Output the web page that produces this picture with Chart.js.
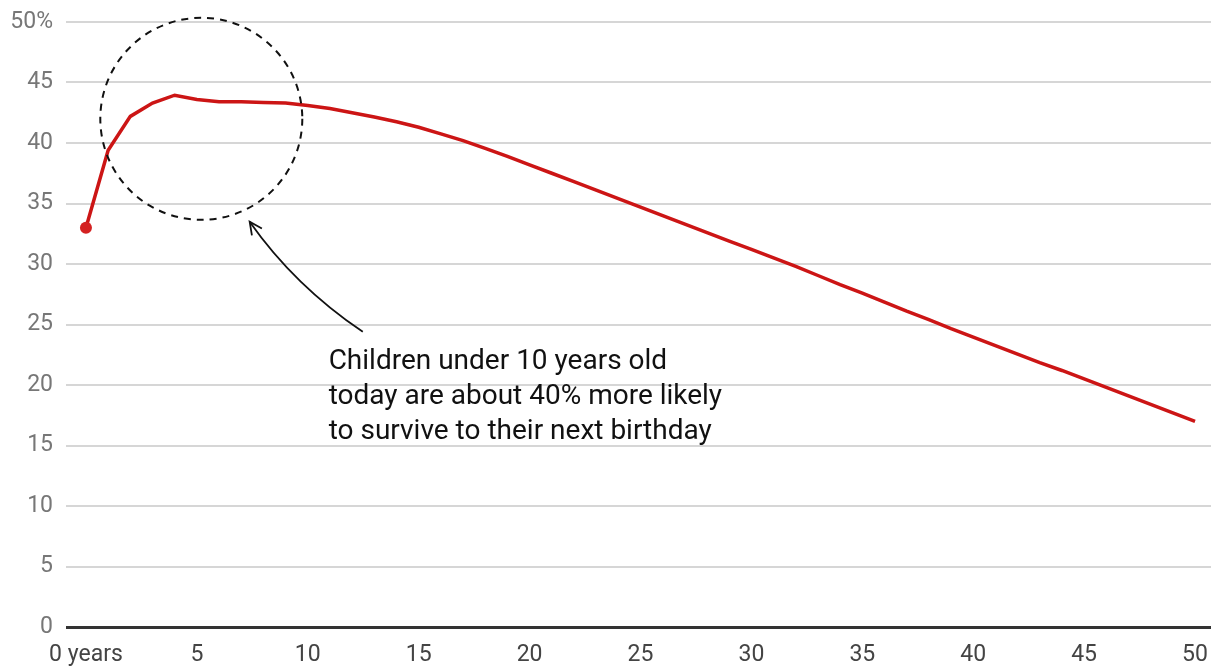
<!DOCTYPE html>
<html>
<head>
<meta charset="utf-8">
<script src="https://cdn.jsdelivr.net/npm/chart.js@4/dist/chart.umd.min.js"></script>
<style>
  html, body { margin: 0; padding: 0; background: #fff; overflow: hidden; }
  #wrap { width: 1211px; height: 667px; position: relative; }
  canvas { display: block; }
</style>
</head>
<body>
<div id="wrap"><canvas id="chart"></canvas></div>
<script>
// Edad (años) y probabilidad de sobrevivir un año más (%)
const ages = [];
for (let a = 0; a <= 50; a++) ages.push(a);
const survival = [
  33.0, 39.4, 42.2, 43.3, 43.95, 43.6, 43.4, 43.4, 43.35, 43.3,
  43.1, 42.85, 42.5, 42.15, 41.75, 41.3, 40.75, 40.2, 39.55, 38.9,
  38.2, 37.5, 36.8, 36.1, 35.4, 34.7, 34.0, 33.3, 32.6, 31.9,
  31.2, 30.5, 29.8, 29.05, 28.3, 27.6, 26.85, 26.1, 25.4, 24.65,
  23.95, 23.25, 22.55, 21.85, 21.2, 20.5, 19.8, 19.1, 18.4, 17.7,
  17.0
];
const xTicks = [0, 5, 10, 15, 20, 25, 30, 35, 40, 45, 50];
const yTicks = [0, 5, 10, 15, 20, 25, 30, 35, 40, 45, 50];
const noteLines = [
  "Children under 10 years old",
  "today are about 40% more likely",
  "to survive to their next birthday"
];

Chart.defaults.font.family = "Roboto";

// Anotación: círculo punteado, flecha y texto
const notePlugin = {
  id: "note",
  afterDatasetsDraw(chart) {
    const c = chart.ctx;
    const xs = chart.scales.x, ys = chart.scales.y;
    const px = v => xs.getPixelForValue(v);
    const py = v => ys.getPixelForValue(v);

    c.save();
    // círculo
    c.strokeStyle = "#111";
    c.lineWidth = 2;
    c.setLineDash([7, 6]);
    c.beginPath();
    c.arc(px(5.2), py(42.0), 101, 0, Math.PI * 2);
    c.stroke();

    // flecha curva
    c.setLineDash([]);
    c.lineWidth = 1.8;
    const sx = px(12.48), sy = py(24.4);
    const cx = px(9.41), cy = py(28.2);
    const ex = px(7.38), ey = py(33.5);
    c.beginPath();
    c.moveTo(sx, sy);
    c.quadraticCurveTo(cx, cy, ex, ey);
    c.stroke();
    const ang = Math.atan2(ey - cy, ex - cx);
    c.beginPath();
    c.moveTo(ex + 14 * Math.cos(ang + Math.PI - 0.45), ey + 14 * Math.sin(ang + Math.PI - 0.45));
    c.lineTo(ex, ey);
    c.lineTo(ex + 14 * Math.cos(ang + Math.PI + 0.45), ey + 14 * Math.sin(ang + Math.PI + 0.45));
    c.stroke();

    // texto
    c.fillStyle = "#111";
    c.font = "400 28px Roboto";
    c.textAlign = "left";
    c.textBaseline = "alphabetic";
    noteLines.forEach((t, i) => c.fillText(t, px(10.94), py(21.3) + i * 35));
    c.restore();
  }
};

new Chart(document.getElementById("chart"), {
  type: "line",
  data: {
    datasets: [{
      data: ages.map((a, i) => ({ x: a, y: survival[i] })),
      borderColor: "#cc1515",
      backgroundColor: "#d42222",
      borderWidth: 3.5,
      pointRadius: ctx => ctx.dataIndex === 0 ? 6 : 0,
      pointHoverRadius: 0,
      pointBorderWidth: 0,
      tension: 0,
      clip: false
    }]
  },
  options: {
    responsive: true,
    maintainAspectRatio: false,
    animation: false,
    layout: { autoPadding: false, padding: { top: 22, right: 0, left: 0, bottom: 0 } },
    plugins: { legend: { display: false }, tooltip: { enabled: false } },
    scales: {
      x: {
        type: "linear",
        min: -0.9,
        max: 50.72,
        afterBuildTicks: s => { s.ticks = xTicks.map(v => ({ value: v })); },
        afterFit: s => { s.height = 40; s.paddingLeft = 0; s.paddingRight = 0; },
        grid: { display: false, drawTicks: false },
        border: { display: false },
        ticks: {
          padding: 14,
          color: "#444",
          font: { size: 23 },
          maxRotation: 0,
          autoSkip: false,
          callback: v => v === 0 ? "0 years" : String(v)
        }
      },
      y: {
        min: 0,
        max: 50,
        afterBuildTicks: s => { s.ticks = yTicks.map(v => ({ value: v })); },
        afterFit: s => { s.width = 66; s.paddingTop = 0; s.paddingBottom = 0; },
        grid: {
          drawTicks: false,
          color: ctx => ctx.tick && ctx.tick.value === 0 ? "#333" : "#d6d6d6",
          lineWidth: ctx => ctx.tick && ctx.tick.value === 0 ? 3 : 2
        },
        border: { display: false },
        ticks: {
          padding: 13,
          color: "#777",
          font: { size: 23, weight: 400 },
          callback: v => v === 50 ? "50%" : String(v)
        }
      }
    }
  },
  plugins: [notePlugin]
});
</script>
</body>
</html>
